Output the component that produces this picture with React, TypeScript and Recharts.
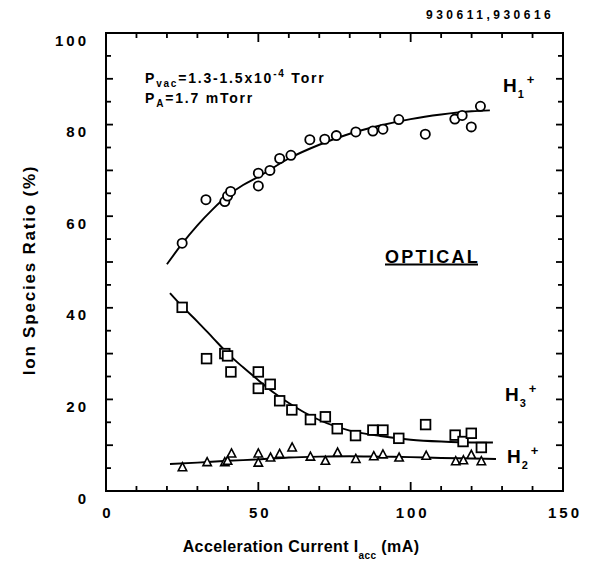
import { ComposedChart, Line, Scatter, XAxis, YAxis } from 'recharts';

const h1Current = [25, 32.8, 39, 39.9, 40.9, 50, 50, 53.8, 57, 60.7, 66.9, 71.8, 75.6, 82, 87.6, 90.9, 96.1, 104.8, 114.5, 116.9, 119.9, 122.9];
const h1Ratio = [54.1, 63.6, 63.2, 64.4, 65.4, 69.4, 66.6, 70.0, 72.6, 73.3, 76.7, 76.8, 77.6, 78.4, 78.6, 79.0, 81.1, 77.9, 81.2, 82.0, 79.5, 84.0];

const h3Current = [25, 33, 39, 39.9, 41, 50, 50, 53.9, 57, 61, 67.1, 72, 75.9, 81.9, 87.6, 90.9, 96.1, 104.9, 114.6, 117.2, 119.9, 123.2];
const h3Ratio = [40.1, 28.9, 30.0, 29.5, 26.0, 26.0, 22.4, 23.3, 19.7, 17.7, 15.6, 16.2, 13.6, 12.1, 13.3, 13.3, 11.5, 14.5, 12.2, 10.8, 12.6, 9.5];

const h2Current = [25.1, 33.2, 39, 39.9, 41.2, 50, 50, 54, 57, 61.1, 67.1, 72, 76, 82, 87.9, 90.9, 96.2, 105.1, 114.8, 117.3, 119.9, 123.2];
const h2Ratio = [5.2, 6.3, 6.3, 6.6, 8.2, 8.2, 6.2, 7.3, 8.1, 9.5, 7.5, 6.6, 8.4, 7.0, 7.6, 8.0, 7.3, 7.7, 6.5, 6.7, 7.9, 6.5];

// hand-drawn fit curves
const fitH1Current = [20, 25, 30, 35, 40, 45, 50, 60, 70, 80, 90, 100, 110, 120, 126];
const fitH1 = [49.5, 54, 58, 61.5, 64.5, 66.8, 68.6, 72.6, 75.6, 78, 79.8, 81.2, 82.2, 82.9, 83.1];
const fitH3Current = [21, 25, 30, 35, 40, 45, 50, 55, 60, 65, 70, 80, 90, 100, 110, 120, 127];
const fitH3 = [43.2, 40.3, 37, 33.5, 30, 27, 24.2, 21.5, 19.2, 17.2, 15.5, 13.2, 12, 11.2, 10.8, 10.6, 10.6];
const fitH2Current = [21, 30, 40, 50, 60, 70, 80, 90, 100, 110, 120, 128];
const fitH2 = [5.9, 6.2, 6.6, 6.9, 7.3, 7.5, 7.6, 7.5, 7.4, 7.2, 7.1, 7.0];

const xTicks = [0, 10, 20, 30, 40, 50, 60, 70, 80, 90, 100, 110, 120, 130, 140, 150];
const yTicks = [0, 5, 10, 15, 20, 25, 30, 35, 40, 45, 50, 55, 60, 65, 70, 75, 80, 85, 90, 95, 100];
const X_MAX = 150;
const Y_MAX = 100;

// plot box, set by the chart margins and axis sizes below
const PLOT = { left: 106, top: 33, width: 457, height: 458 };

const FONT = '"Liberation Sans", Arial, sans-serif';
const INK = '#000000';

const pts = (xs: number[], ys: number[]) => xs.map((x, i) => ({ x, y: ys[i] }));

const h1 = pts(h1Current, h1Ratio);
const h3 = pts(h3Current, h3Ratio);
const h2 = pts(h2Current, h2Ratio);
const fit1 = pts(fitH1Current, fitH1);
const fit3 = pts(fitH3Current, fitH3);
const fit2 = pts(fitH2Current, fitH2);

const LeftTick = (p: any) => {
    const v = p.payload.value;
    const len = v % 10 === 0 ? 7 : 5;
    return (
        <g>
            <line x1={p.x} y1={p.y} x2={p.x + len} y2={p.y} stroke={INK} strokeWidth={1.8} />
            {v % 20 === 0 && (
                <text x={p.x - 17} y={p.y + 7} textAnchor="end" dominantBaseline="central"
                    fontFamily={FONT} fontWeight="bold" fontSize={15} letterSpacing={3} fill={INK}>
                    {v}
                </text>
            )}
        </g>
    );
};

const BottomTick = (p: any) => {
    const v = p.payload.value;
    const len = v % 50 === 0 ? 9 : 5;
    return (
        <g>
            <line x1={p.x} y1={p.y} x2={p.x} y2={p.y - len} stroke={INK} strokeWidth={1.8} />
            {v % 50 === 0 && (
                <text x={p.x + 2} y={p.y + 21} textAnchor="middle" dominantBaseline="central"
                    fontFamily={FONT} fontWeight="bold" fontSize={15} letterSpacing={3} fill={INK}>
                    {v}
                </text>
            )}
        </g>
    );
};

const CircleMark = ({ cx, cy }: any) => <circle cx={cx} cy={cy} r={4.6} fill="#fff" stroke={INK} strokeWidth={1.8} />;
const SquareMark = ({ cx, cy }: any) => <rect x={cx - 4.8} y={cy - 4.8} width={9.6} height={9.6} fill="#fff" stroke={INK} strokeWidth={1.8} />;
const TriangleMark = ({ cx, cy }: any) => (
    <polygon points={`${cx},${cy - 4.5} ${cx - 4.2},${cy + 3.5} ${cx + 4.2},${cy + 3.5}`} fill="#fff" stroke={INK} strokeWidth={1.6} />
);

const sx = (v: number) => PLOT.left + (v / X_MAX) * PLOT.width;
const sy = (v: number) => PLOT.top + PLOT.height - (v / Y_MAX) * PLOT.height;

const txt = { fontFamily: FONT, fontWeight: 'bold' as const, fill: INK };

export default function App() {
    const right = PLOT.left + PLOT.width;
    return (
        <div style={{ position: 'relative', margin: -8, width: 592, height: 570, background: '#fff' }}>
            <ComposedChart width={592} height={570} margin={{ top: PLOT.top, right: 592 - right, left: 0, bottom: 0 }}>
                <XAxis type="number" dataKey="x" domain={[0, X_MAX]} ticks={xTicks} interval={0}
                    height={570 - PLOT.top - PLOT.height} tickSize={0} tickMargin={0} tick={<BottomTick />}
                    axisLine={{ stroke: INK, strokeWidth: 2 }} tickLine={false} />
                <YAxis type="number" dataKey="y" domain={[0, Y_MAX]} ticks={yTicks} interval={0}
                    width={PLOT.left} tickSize={0} tickMargin={0} tick={<LeftTick />}
                    axisLine={{ stroke: INK, strokeWidth: 2 }} tickLine={false} />

                <Line data={fit1} dataKey="y" type="monotone" stroke={INK} strokeWidth={1.9} dot={false} isAnimationActive={false} />
                <Line data={fit3} dataKey="y" type="monotone" stroke={INK} strokeWidth={1.9} dot={false} isAnimationActive={false} />
                <Line data={fit2} dataKey="y" type="monotone" stroke={INK} strokeWidth={1.9} dot={false} isAnimationActive={false} />

                <Scatter data={h1} dataKey="y" shape={<CircleMark />} isAnimationActive={false} />
                <Scatter data={h3} dataKey="y" shape={<SquareMark />} isAnimationActive={false} />
                <Scatter data={h2} dataKey="y" shape={<TriangleMark />} isAnimationActive={false} />
            </ComposedChart>

            <svg width={592} height={570} style={{ position: 'absolute', left: 0, top: 0, pointerEvents: 'none' }}>
                {/* box outline with the inward ticks of the top and right edges */}
                <rect x={PLOT.left} y={PLOT.top} width={PLOT.width} height={PLOT.height} fill="none" stroke="#000000" strokeWidth={2} />
                {xTicks.slice(1, -1).map(v => (
                    <line key={`t${v}`} x1={sx(v)} y1={PLOT.top} x2={sx(v)} y2={PLOT.top + (v % 50 === 0 ? 9 : 5)}
                        stroke="#000000" strokeWidth={1.8} />
                ))}
                {yTicks.slice(1, -1).map(v => (
                    <line key={`r${v}`} x1={right} y1={sy(v)} x2={right - (v % 10 === 0 ? 7 : 5)} y2={sy(v)}
                        stroke="#000000" strokeWidth={1.8} />
                ))}

                <text x={426} y={15} dominantBaseline="central" fontSize={12} letterSpacing={3.5} {...txt}>930611,930616</text>

                <text x={145} y={83} fontSize={14} letterSpacing={1.8} {...txt}>
                    P<tspan fontSize={10} dy={4}>vac</tspan>
                    <tspan dy={-4}>=1.3-1.5x10</tspan>
                    <tspan fontSize={10} dy={-6}>-4</tspan>
                    <tspan dy={6}> Torr</tspan>
                </text>
                <text x={145} y={103} fontSize={14} letterSpacing={1.8} {...txt}>
                    P<tspan fontSize={10} dy={4}>A</tspan>
                    <tspan dy={-4}>=1.7 mTorr</tspan>
                </text>

                <text x={385} y={263} fontSize={18} letterSpacing={2.3} {...txt}>OPTICAL</text>
                <line x1={385} y1={264.5} x2={478} y2={264.5} stroke="#000000" strokeWidth={2} />

                <text x={503} y={92} fontSize={19} {...txt}>
                    H<tspan fontSize={11} dy={6} dx={1}>1</tspan>
                    <tspan fontSize={13} dy={-14} dx={3}>+</tspan>
                </text>
                <text x={505} y={401} fontSize={19} {...txt}>
                    H<tspan fontSize={11} dy={6} dx={1}>3</tspan>
                    <tspan fontSize={13} dy={-14} dx={3}>+</tspan>
                </text>
                <text x={507} y={463} fontSize={19} {...txt}>
                    H<tspan fontSize={11} dy={6} dx={1}>2</tspan>
                    <tspan fontSize={13} dy={-14} dx={3}>+</tspan>
                </text>

                <text transform="translate(29,270) rotate(-90)" textAnchor="middle" dominantBaseline="central"
                    fontSize={17} letterSpacing={1.8} {...txt}>
                    Ion Species Ratio (%)
                </text>

                <text x={301} y={552} textAnchor="middle" fontSize={16} letterSpacing={0.4} {...txt}>
                    Acceleration Current I<tspan fontSize={10} dy={7}>acc</tspan>
                    <tspan dy={-7}> (mA)</tspan>
                </text>
            </svg>
        </div>
    );
}
